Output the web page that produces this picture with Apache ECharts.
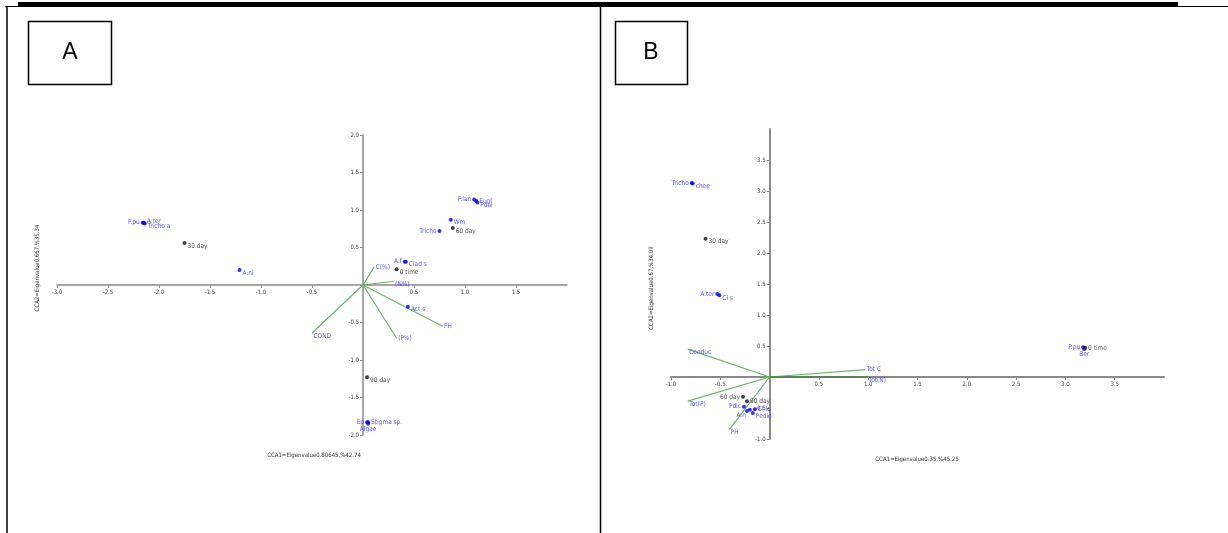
<!DOCTYPE html>
<html>
<head>
<meta charset="utf-8">
<script src="https://cdn.jsdelivr.net/npm/echarts@6/dist/echarts.min.js"></script>
<style>
    html, body { margin: 0; padding: 0; background: #fff; }
    #cca_con { width: 1228px; height: 533px; }
</style>
</head>
<body>
<div id="cca_con"></div>
<script>
// panel A - species scores
const aSpecies = ['P.pu', 'A.ter', 'Tricho a', 'A.ni', 'P.lan', 'Eugl', 'Pdal', 'Wm', 'Tricho', 'A.f', 'Clad s', 'Act s', 'Ep', 'Stigma sp.', 'Algae'];
const aSpeciesX = [-2.16, -2.15, -2.14, -1.21, 1.09, 1.11, 1.12, 0.86, 0.75, 0.41, 0.42, 0.44, 0.04, 0.05, 0.05];
const aSpeciesY = [0.83, 0.83, 0.82, 0.20, 1.14, 1.12, 1.10, 0.87, 0.72, 0.31, 0.31, -0.29, -1.83, -1.83, -1.85];
// panel A - sampling times
const aTimes = ['30 day', '0 time', '60 day', '90 day'];
const aTimesX = [-1.75, 0.33, 0.88, 0.04];
const aTimesY = [0.56, 0.21, 0.76, -1.23];
// panel A - environmental vectors
const aVectors = ['C(%)', '(N%)', 'PH', '(P%)', 'COND'];
const aVectorsX = [0.11, 0.30, 0.78, 0.33, -0.50];
const aVectorsY = [0.24, 0.05, -0.55, -0.71, -0.64];

// panel B - species scores
const bSpecies = ['Tricho', 'chee', 'A.ter', 'Cl s', 'P.pu', 'Ber', 'Pdic', 'A.n', 'Osc', 'Cl.lo', 'Pedio'];
const bSpeciesX = [-0.79, -0.78, -0.53, -0.51, 3.18, 3.19, -0.26, -0.23, -0.20, -0.15, -0.17];
const bSpeciesY = [3.13, 3.12, 1.34, 1.32, 0.48, 0.45, -0.48, -0.55, -0.53, -0.52, -0.58];
// panel B - sampling times
const bTimes = ['30 day', '60 day', '90 day', '0 time'];
const bTimesX = [-0.65, -0.27, -0.23, 3.20];
const bTimesY = [2.23, -0.32, -0.39, 0.47];
// panel B - environmental vectors
const bVectors = ['Conduc', 'Tot(P)', 'PH', 'Tot C', 'Tot(N)'];
const bVectorsX = [-0.83, -0.83, -0.41, 0.97, 0.99];
const bVectorsY = [0.45, -0.39, -0.85, 0.12, 0.00];

// axis titles
const aTitleX = 'CCA1=Eigenvalue0.80645,%42.74';
const aTitleY = 'CCA2=Eigenvalue0.667,%35.34';
const bTitleX = 'CCA1=Eigenvalue0.35,%45.25';
const bTitleY = 'CCA2=Eigenvalue0.67,%34.09';

// label placement (layout only)
const aSpeciesPos = ['l', 'rt', 'rb', 'rb', 'l', 'r', 'rb', 'rb', 'l', 'l', 'rb', 'rb', 'l', 'r', 'b'];
const aTimesPos = ['rb', 'rb', 'rb', 'rb'];
const aVectorsPos = ['r', 'rb', 'r', 'r', 'rb'];
const bSpeciesPos = ['l', 'rb', 'l', 'rb', 'l', 'b', 'l', 'lb', 'n', 'r', 'rb'];
const bTimesPos = ['rb', 'l', 'r', 'r'];
const bVectorsPos = ['rb', 'rb', 'rb', 'r', 'rb'];

const FONT = '"Liberation Sans Narrow", "DejaVu Sans Condensed", "Liberation Sans", sans-serif';
const BLUE = '#2a2aff';
const GREEN = '#6cb36c';

const grids = [
    {left: 57, top: 135, width: 510, height: 300},
    {left: 671, top: 129, width: 493, height: 310}
];

function place(p) {
    switch (p) {
        case 'l': return {position: 'left', distance: 1};
        case 'lb': return {position: 'left', distance: 1, offset: [2, 4]};
        case 'r': return {position: 'right', distance: 1};
        case 'rb': return {position: 'right', distance: 1, offset: [0, 3]};
        case 'rt': return {position: 'right', distance: 1, offset: [0, -1]};
        case 'b': return {position: 'bottom', distance: 0};
        default: return {show: false};
    }
}

function points(idx, names, xs, ys, pos, color, labelColor, size) {
    return {
        type: 'scatter',
        xAxisIndex: idx,
        yAxisIndex: idx,
        symbolSize: size,
        z: 5,
        itemStyle: {color: color},
        label: {show: true, fontSize: 6.5, fontFamily: FONT, color: labelColor, formatter: (p) => p.name},
        data: names.map((n, i) => ({name: n, value: [xs[i], ys[i]], label: place(pos[i])}))
    };
}

function vectors(idx, names, xs, ys, darkLast) {
    const list = names.map((n, i) => ({
        type: 'line',
        xAxisIndex: idx,
        yAxisIndex: idx,
        showSymbol: false,
        silent: true,
        z: 2,
        lineStyle: {color: (darkLast && i === names.length - 1) ? '#2f7f2f' : GREEN, width: 1.2},
        data: [[0, 0], [xs[i], ys[i]]]
    }));
    list.push(points(idx, names, xs, ys, idx === 0 ? aVectorsPos : bVectorsPos, 'rgba(0,0,0,0)', BLUE, 1));
    return list;
}

// axes cross at the origin: shift the whole axis (line, ticks, labels) there
function axis(idx, dim, min, max, showMax) {
    const g = grids[idx];
    const size = dim === 'x' ? g.height : g.width;
    // the other axis' range decides where zero sits
    const other = dim === 'x' ? (idx === 0 ? [-2, 2] : [-1, 4]) : (idx === 0 ? [-3, 2] : [-1, 4]);
    const shift = (0 - other[0]) / (other[1] - other[0]) * size;
    return {
        gridIndex: idx,
        type: 'value',
        min: min,
        max: max,
        interval: 0.5,
        offset: -shift,
        splitLine: {show: false},
        axisLine: {onZero: false, lineStyle: {color: '#8a8a8a', width: idx === 0 ? 1.5 : 2}},
        axisTick: {show: true, length: 3, lineStyle: {color: '#8a8a8a'}},
        axisLabel: {
            fontSize: 6, fontFamily: FONT, color: '#444', margin: 4, showMaxLabel: showMax,
            formatter: (v) => Math.abs(v) < 1e-9 ? '' : v.toFixed(1)
        }
    };
}

function title(text, x, y, rotate) {
    return {
        type: 'text', x: x, y: y, rotation: rotate ? Math.PI / 2 : 0,
        style: {text: text, font: '6px ' + FONT, fill: '#333', align: 'center', verticalAlign: 'middle'}
    };
}

const option = {
    animation: false,
    grid: grids,
    xAxis: [axis(0, 'x', -3, 2, false), axis(1, 'x', -1, 4, false)],
    yAxis: [axis(0, 'y', -2, 2, true), axis(1, 'y', -1, 4, false)],
    series: [].concat(
        vectors(0, aVectors, aVectorsX, aVectorsY, false),
        vectors(1, bVectors, bVectorsX, bVectorsY, true),
        [
            points(0, aSpecies, aSpeciesX, aSpeciesY, aSpeciesPos, '#0000ee', BLUE, 4),
            points(0, aTimes, aTimesX, aTimesY, aTimesPos, '#111', '#222', 4),
            points(1, bSpecies, bSpeciesX, bSpeciesY, bSpeciesPos, '#0000ee', BLUE, 4),
            points(1, bTimes, bTimesX, bTimesY, bTimesPos, '#111', '#222', 4)
        ]
    ),
    graphic: [
        {type: 'rect', shape: {x: 18, y: 2, width: 1160, height: 5}, style: {fill: '#000'}},
        {type: 'line', shape: {x1: 5, y1: 6.5, x2: 1228, y2: 6.5}, style: {stroke: '#000', lineWidth: 1}},
        {type: 'line', shape: {x1: 7, y1: 6, x2: 7, y2: 533}, style: {stroke: '#000', lineWidth: 1.5}},
        {type: 'line', shape: {x1: 600.5, y1: 6, x2: 600.5, y2: 533}, style: {stroke: '#000', lineWidth: 1.5}},
        {type: 'rect', shape: {x: 28.5, y: 21.5, width: 83, height: 63}, style: {fill: 'none', stroke: '#000', lineWidth: 1.5}},
        {type: 'rect', shape: {x: 615.5, y: 21.5, width: 72, height: 63}, style: {fill: 'none', stroke: '#000', lineWidth: 1.5}},
        {type: 'text', x: 70, y: 53, style: {text: 'A', font: '23px "Liberation Sans", sans-serif', fill: '#000', align: 'center', verticalAlign: 'middle'}},
        {type: 'text', x: 651, y: 53, style: {text: 'B', font: '23px "Liberation Sans", sans-serif', fill: '#000', align: 'center', verticalAlign: 'middle'}},
        title(aTitleX, 314, 455, false),
        title(aTitleY, 37, 268, true),
        title(bTitleX, 917, 459, false),
        title(bTitleY, 651, 288, true)
    ]
};

const ccaChart = echarts.init(document.getElementById('cca_con'));
ccaChart.setOption(option);
window.addEventListener('resize', function () {
    ccaChart.resize();
});
</script>
</body>
</html>
